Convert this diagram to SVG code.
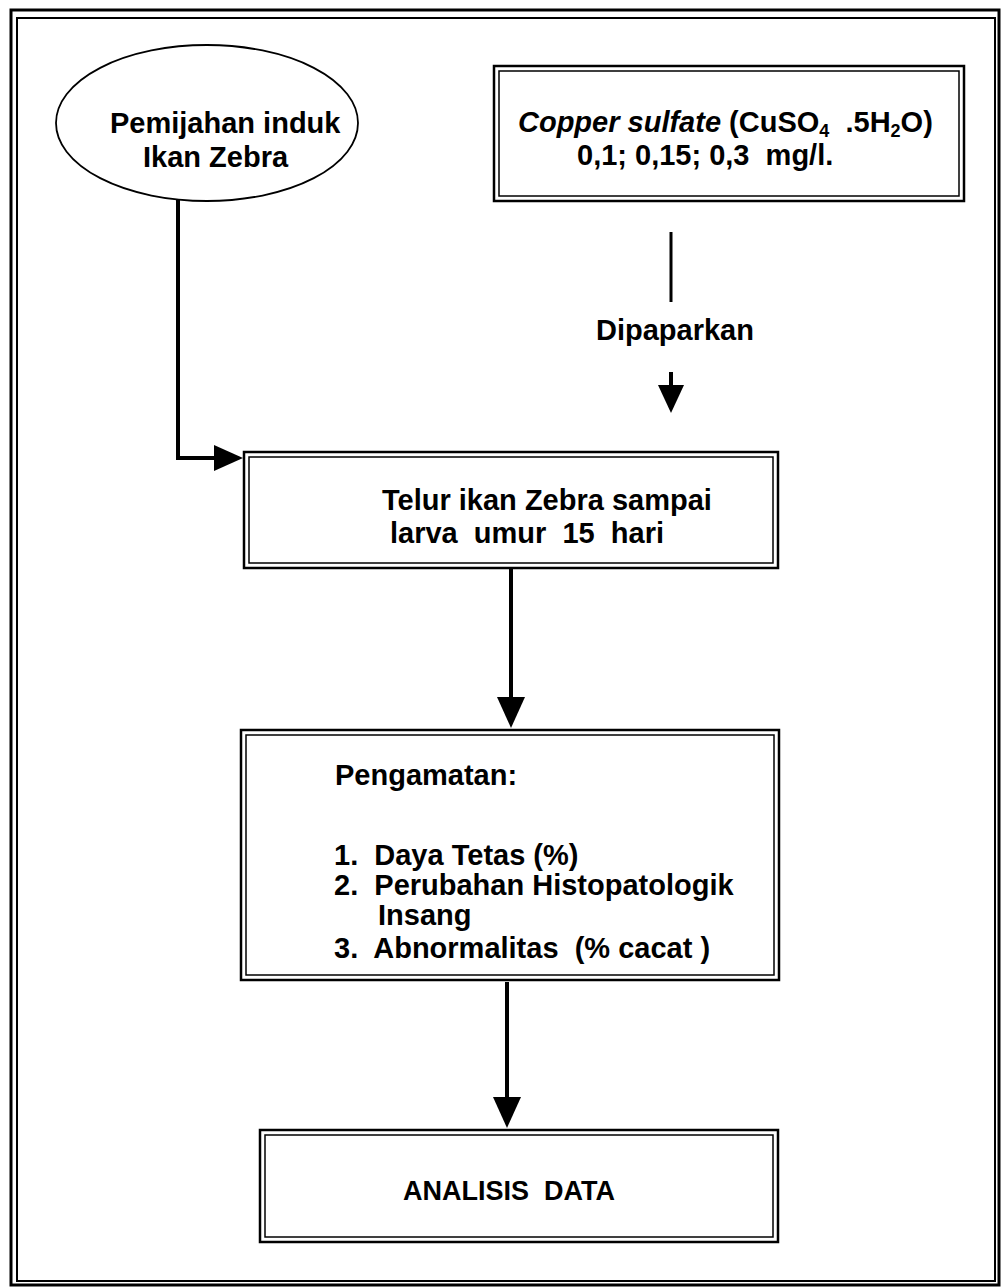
<svg xmlns="http://www.w3.org/2000/svg" width="1003" height="1287" viewBox="0 0 1003 1287" xml:space="preserve">
<style>
  .t { font-family: "Liberation Sans", Arial, sans-serif; font-weight: bold; font-size: 29px; fill: #000; white-space: pre; }
  .sub { font-size: 18px; }
  .outer { fill: none; stroke: #000; stroke-width: 2.5; }
  .inner { fill: none; stroke: #000; stroke-width: 1.5; }
  .line { fill: none; stroke: #000; stroke-width: 4; }
  .head { fill: #000; stroke: none; }
</style>
<rect x="0" y="0" width="1003" height="1287" fill="#fff"/>
<g id="frame">
  <rect x="11" y="10" width="988" height="1275" fill="none" stroke="#000" stroke-width="3"/>
  <rect x="17" y="18" width="978" height="1263" fill="none" stroke="#000" stroke-width="2"/>
</g>
<g id="node-pemijahan">
  <ellipse cx="207" cy="123" rx="151" ry="78" fill="none" stroke="#000" stroke-width="1.8"/>
  <text class="t" x="110" y="133">Pemijahan induk</text>
  <text class="t" x="143" y="167">Ikan Zebra</text>
</g>
<g id="node-copper">
  <rect class="outer" x="494" y="66" width="470" height="135"/>
  <rect class="inner" x="499" y="71" width="460" height="125"/>
  <text class="t" x="518" y="132"><tspan font-style="italic">Copper sulfate</tspan> (CuSO<tspan class="sub" dy="5">4</tspan><tspan dy="-5">  .5H</tspan><tspan class="sub" dy="5">2</tspan><tspan dy="-5">O)</tspan></text>
  <text class="t" x="577" y="165">0,1; 0,15; 0,3  mg/l.</text>
</g>
<g id="node-telur">
  <rect class="outer" x="244" y="452" width="534" height="116"/>
  <rect class="inner" x="249" y="457" width="524" height="106"/>
  <text class="t" x="382" y="510">Telur ikan Zebra sampai</text>
  <text class="t" x="390" y="543">larva  umur  15  hari</text>
</g>
<g id="node-pengamatan">
  <rect class="outer" x="241" y="730" width="538" height="250"/>
  <rect class="inner" x="246" y="735" width="528" height="240"/>
  <text class="t" x="335" y="785">Pengamatan:</text>
  <text class="t" x="334" y="865">1.  Daya Tetas (%)</text>
  <text class="t" x="334" y="895">2.  Perubahan Histopatologik</text>
  <text class="t" x="378" y="925">Insang</text>
  <text class="t" x="334" y="958">3.  Abnormalitas  (% cacat )</text>
</g>
<g id="node-analisis">
  <rect class="outer" x="260" y="1130" width="518" height="112"/>
  <rect class="inner" x="265" y="1135" width="508" height="102"/>
  <text class="t" x="403" y="1200" style="font-size:27px">ANALISIS  DATA</text>
</g>
<g id="connectors">
  <polyline class="line" points="178,200 178,458 216,458"/>
  <polygon class="head" points="243,458 214,445 214,471"/>
  <line x1="671" y1="232" x2="671" y2="302" stroke="#000" stroke-width="3"/>
  <text class="t" x="596" y="340">Dipaparkan</text>
  <line class="line" x1="671" y1="372" x2="671" y2="390"/>
  <polygon class="head" points="671,413 658,385 684,385"/>
  <line class="line" x1="511" y1="568" x2="511" y2="700"/>
  <polygon class="head" points="511,728 497,697 525,697"/>
  <line class="line" x1="507" y1="982" x2="507" y2="1100"/>
  <polygon class="head" points="507,1128 493,1097 521,1097"/>
</g>
</svg>
